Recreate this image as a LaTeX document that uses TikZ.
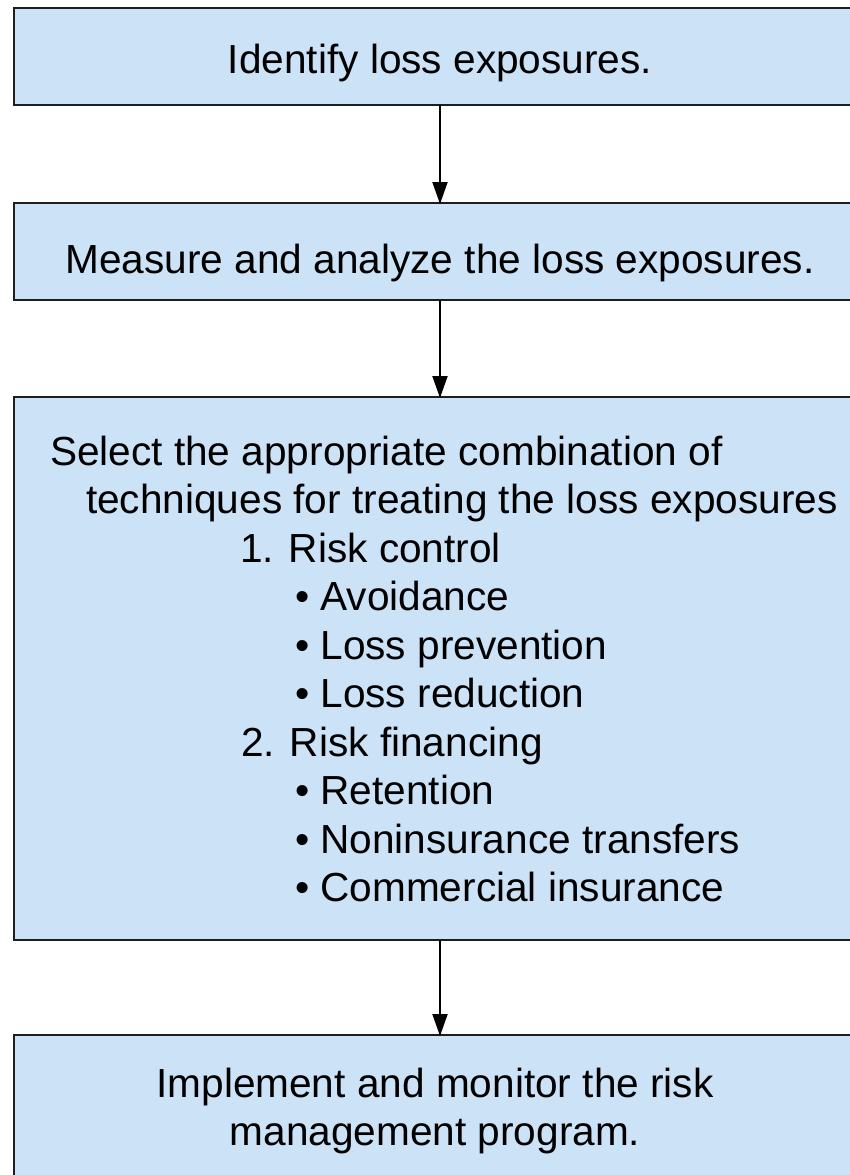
\documentclass[tikz,border=0pt]{standalone}
\usepackage{fontspec}
\setmainfont{Liberation Sans}
\usetikzlibrary{arrows.meta}
\definecolor{boxblue}{RGB}{204,226,247}
\definecolor{edge}{RGB}{30,30,30}
\tikzset{
  x=1pt, y=-1pt,
  box/.style={draw=edge, line width=2pt, fill=boxblue, minimum width=852pt, inner sep=0pt, outer sep=0pt},
  txt/.style={font=\fontsize{40.6}{48.5}\selectfont, inner sep=0pt, outer sep=0pt, text=black},
  ltxt/.style={txt, anchor=base west},
  ctxt/.style={txt, anchor=base, align=center},
  arr/.style={draw=black, line width=2pt, -{Triangle[length=22pt,width=15pt]}, shorten >=-1pt}
}
\begin{document}
\begin{tikzpicture}
\clip (0,0) rectangle (850,1175);
\fill[white] (0,0) rectangle (850,1175);
% boxes
\node[box, minimum height=97pt] (b1) at (440,56.5) {};
\node[box, minimum height=97pt] (b2) at (440,251.5) {};
\node[box, minimum height=543pt] (b3) at (440,668.5) {};
\node[box, minimum height=165pt] (b4) at (440,1117.5) {};
% texts
\node[ctxt] (t1) at (440,73) {Identify loss exposures.};
\node[ctxt] (t2) at (440,273) {Measure and analyze the loss exposures.};
\node[ltxt] (s1) at (50,465) {Select the appropriate combination of};
\node[ltxt] (s2) at (86,513.5) {techniques for treating the loss exposures};
\node[ltxt] (s3) at (240,562) {1. Risk control};
\node[ltxt] (s4) at (295,610.5) {• Avoidance};
\node[ltxt] (s5) at (295,659) {• Loss prevention};
\node[ltxt] (s6) at (295,707.5) {• Loss reduction};
\node[ltxt] (s7) at (241,756) {2. Risk financing};
\node[ltxt] (s8) at (295,804.5) {• Retention};
\node[ltxt] (s9) at (295,853) {• Noninsurance transfers};
\node[ltxt] (s10) at (295,901.5) {• Commercial insurance};
\node[ctxt] (t4a) at (435,1097) {Implement and monitor the risk};
\node[ctxt] (t4b) at (435,1145) {management program.};
% arrows
\draw[arr] (b1.south) -- (b2.north);
\draw[arr] (b2.south) -- (b3.north);
\draw[arr] (b3.south) -- (b4.north);
\end{tikzpicture}
\end{document}
